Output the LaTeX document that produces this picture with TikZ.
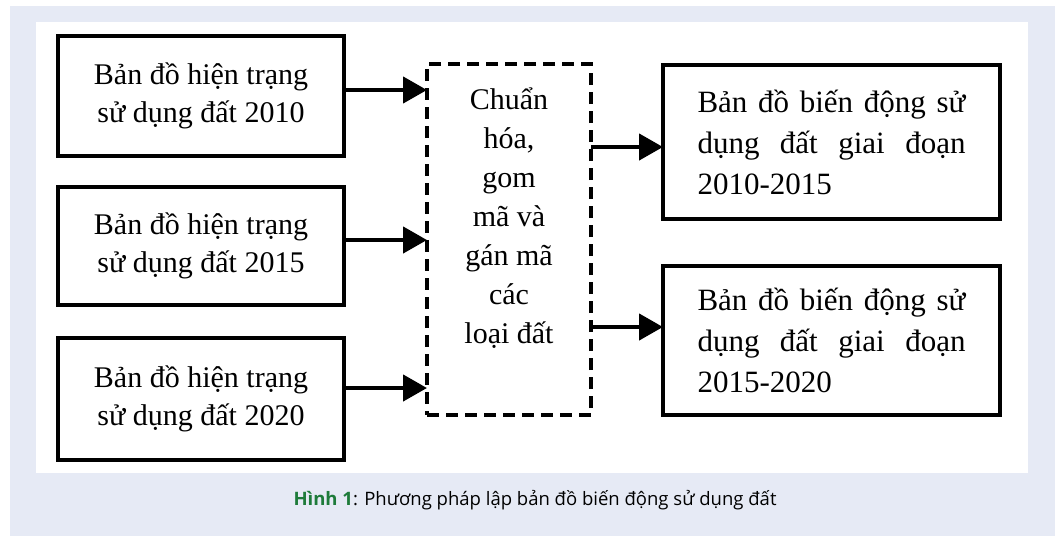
\documentclass[tikz,border=0pt]{standalone}
\usepackage{fontspec}
\setmainfont{Liberation Serif}
\newfontfamily\capfont{Open Sans}
\usetikzlibrary{arrows.meta}

\definecolor{panelbg}{HTML}{E6EAF5}
\definecolor{capgreen}{HTML}{1E7B3A}

\begin{document}
\begin{tikzpicture}[x=1pt,y=-1pt,
    mapbox/.style={draw, line width=4.5pt, inner sep=0pt, outer sep=0pt},
    inbox/.style={mapbox, minimum width=286pt, align=center,
        font=\fontsize{30}{38}\selectfont},
    outbox/.style={mapbox, minimum width=337pt, minimum height=152pt,
        text width=268pt, align=justify, font=\fontsize{31}{41}\selectfont},
    arr/.style={line width=4.5pt, -{Triangle[length=24pt,width=26pt]}}]
    \useasboundingbox (0,0) rectangle (1058,536);

    % Background and panel
    \fill[panelbg] (10,6) rectangle (1055,536);
    \fill[white] (36,22) rectangle (1028,473);

    % Input maps
    \node[inbox, minimum height=120pt] (in1) at (201,96) {Bản đồ hiện trạng\\sử dụng đất 2010};
    \node[inbox, minimum height=118pt] (in2) at (201,246) {Bản đồ hiện trạng\\sử dụng đất 2015};
    \node[inbox, minimum height=122pt] (in3) at (201,399) {Bản đồ hiện trạng\\sử dụng đất 2020};

    % Processing step
    \node[mapbox, dash pattern=on 12pt off 7pt, minimum width=164pt,
        minimum height=351pt] (proc) at (509,239.5) {};
    \node[align=center, font=\fontsize{30}{39}\selectfont] (proclabel) at (509,218)
        {Chuẩn\\hóa,\\gom\\mã và\\gán mã\\các\\loại đất};

    % Output maps
    \node[outbox, minimum height=154pt] (out1) at (831.5,142)
        {Bản đồ biến động sử dụng đất giai đoạn 2010-2015};
    \node[outbox, minimum height=149pt] (out2) at (831.5,340.5)
        {Bản đồ biến động sử dụng đất giai đoạn 2015-2020};

    % Arrows
    \draw[arr] ([yshift=6pt]in1.east) -- ([yshift=6pt]in1.east -| proc.west);
    \draw[arr] ([yshift=6pt]in2.east) -- ([yshift=6pt]in2.east -| proc.west);
    \draw[arr] ([yshift=11pt]in3.east) -- ([yshift=11pt]in3.east -| proc.west);
    \draw[arr] ([yshift=-5pt]out1.west -| proc.east) -- ([yshift=-5pt]out1.west);
    \draw[arr] ([yshift=13.5pt]out2.west -| proc.east) -- ([yshift=13.5pt]out2.west);

    % Caption
    \node[font=\capfont\fontsize{18.5}{22}\selectfont] (caption) at (535,500)
        {\textcolor{capgreen}{\bfseries Hình 1}: Phương pháp lập bản đồ biến động sử dụng đất};
\end{tikzpicture}
\end{document}
